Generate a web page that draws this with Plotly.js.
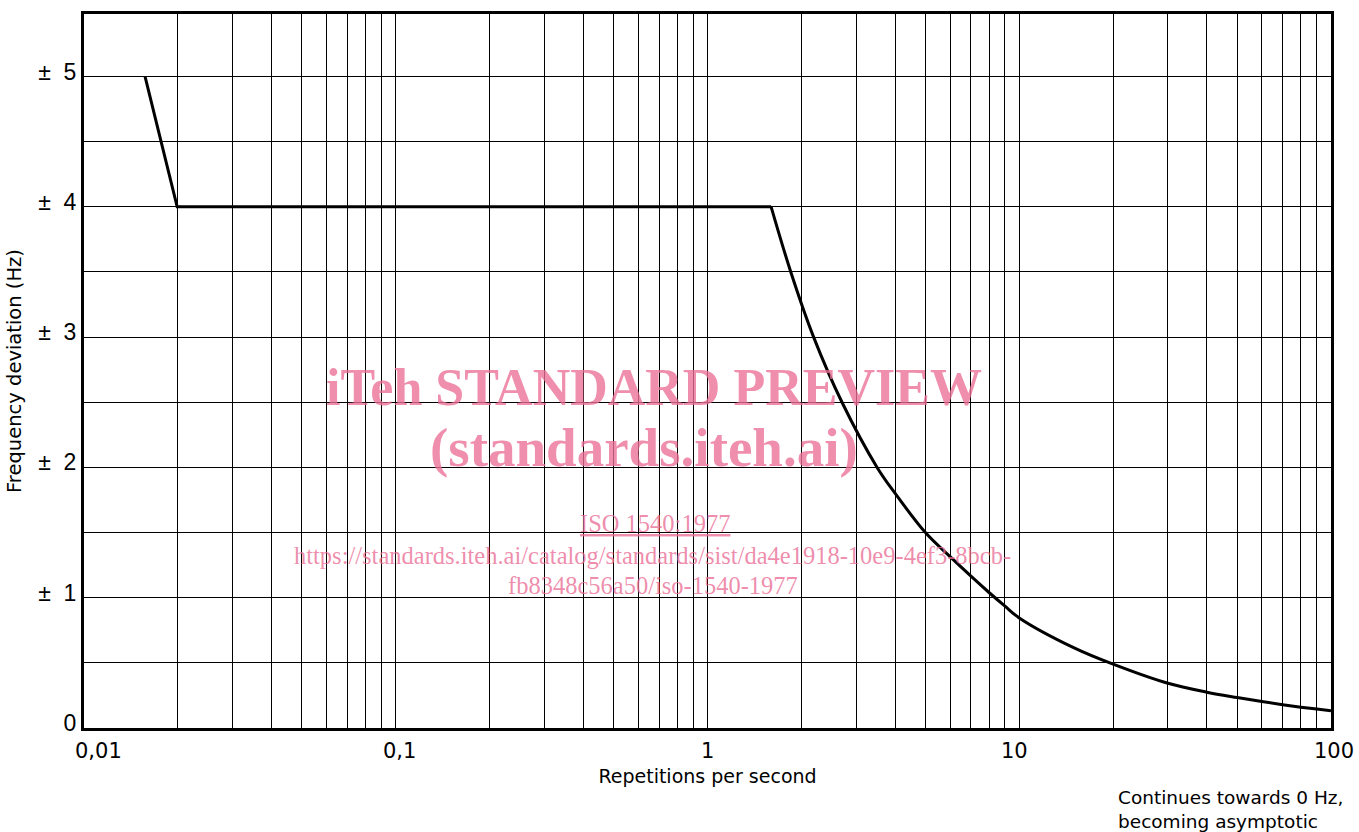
<!DOCTYPE html>
<html>
<head>
<meta charset="utf-8">
<script src="https://cdn.plot.ly/plotly-3.0.1.min.js"></script>
<style>html,body{margin:0;padding:0;background:#fff;}#chart{width:1359px;height:832px;}</style>
</head>
<body>
<div id="chart"></div>
<script>
// Limit curve: repetitions per second vs. frequency deviation (Hz)
const repRate = [0.0157, 0.0199, 1.6, 1.85, 2.19, 2.7, 3.5, 4, 5, 6, 7, 8, 9, 10, 15, 20, 30, 40, 50, 60, 70, 80, 90, 100];
const freqDev = [5, 4, 4, 3.5, 3, 2.5, 2, 1.8, 1.5, 1.315, 1.165, 1.04, 0.935, 0.845, 0.615, 0.49, 0.343, 0.275, 0.234, 0.203, 0.179, 0.16, 0.145, 0.132];
const cornerIndex = 2; // end of the straight-line part (flat at ±4 Hz)

// Axis ticks
const xDecades = [0.01, 0.1, 1, 10, 100];
const xDecadeLabels = ['0,01', '0,1', '1', '10', '100'];
const xLabelShift = [14, 4, 0, -5, 3]; // px, label placement only
const yMajor = [0, 1, 2, 3, 4, 5];
const yMajorLabels = ['0', '± 1', '± 2', '± 3', '± 4', '± 5'];

// Build grid tick lists (1..9 per decade, 0.5 Hz steps)
const xTickVals = [];
xDecades.forEach((d, i) => {
  const steps = (i === xDecades.length - 1) ? [1] : [1,2,3,4,5,6,7,8,9];
  steps.forEach(m => xTickVals.push(d * m));
});
const yTickVals = [], yTickText = [];
for (let v = 0; v <= 5; v += 0.5) {
  yTickVals.push(v);
  const idx = yMajor.indexOf(v);
  yTickText.push(idx >= 0 ? yMajorLabels[idx].replace('± ', '±&nbsp;&nbsp;') : '');
}

const wmColor = 'rgba(234,110,150,0.78)';
const serif = '"Liberation Serif", "DejaVu Serif", serif';
const sans = '"DejaVu Sans", "Liberation Sans", sans-serif';

const straightPart = {
  x: repRate.slice(0, cornerIndex + 1), y: freqDev.slice(0, cornerIndex + 1),
  type: 'scatter', mode: 'lines', line: {color: '#000', width: 3}
};
const curvedPart = {
  x: repRate.slice(cornerIndex), y: freqDev.slice(cornerIndex),
  type: 'scatter', mode: 'lines', line: {color: '#000', width: 3, shape: 'spline', smoothing: 1}
};

const xLabelAnnotations = xDecades.map((d, i) => ({
  xref: 'x', yref: 'paper', x: Math.log10(d), y: 0, xanchor: 'center', yanchor: 'top',
  yshift: -9, xshift: xLabelShift[i], showarrow: false,
  text: xDecadeLabels[i], font: {family: sans, size: 21, color: '#000'}
}));

const layout = {
  width: 1359, height: 832,
  margin: {l: 84, r: 28, t: 14, b: 104},
  paper_bgcolor: '#fff', plot_bgcolor: '#fff',
  showlegend: false,
  font: {family: sans, color: '#000'},
  xaxis: {
    type: 'log', range: [-2, 2],
    tickmode: 'array', tickvals: xTickVals, ticktext: xTickVals.map(() => ''),
    showgrid: true, gridcolor: '#000', gridwidth: 1,
    showline: true, linecolor: '#000', linewidth: 3, mirror: true,
    ticks: '', zeroline: false,
    tickfont: {size: 21, color: '#000'},
    title: {text: 'Repetitions per second', font: {size: 19, color: '#000'}, standoff: 36}
  },
  yaxis: {
    range: [0, 5.48],
    tickmode: 'array', tickvals: yTickVals, ticktext: yTickText,
    showgrid: true, gridcolor: '#000', gridwidth: 1,
    showline: true, linecolor: '#000', linewidth: 3, mirror: true,
    ticks: '', zeroline: false, ticklabelshift: -5,
    tickfont: {family: '"Liberation Sans", Arial, sans-serif', size: 23, color: '#000'},
    title: {text: 'Frequency deviation (Hz)', font: {size: 19.5, color: '#000'}, standoff: 12}
  },
  annotations: xLabelAnnotations.concat([
    {xref: 'paper', yref: 'paper', x: 0.4571, y: 0.477, xanchor: 'center', yanchor: 'middle', showarrow: false,
     text: '<b>iTeh STANDARD PREVIEW</b>', font: {family: serif, size: 52, color: wmColor}},
    {xref: 'paper', yref: 'paper', x: 0.449, y: 0.393, xanchor: 'center', yanchor: 'middle', showarrow: false,
     text: '<b>(standards.iteh.ai)</b>', font: {family: serif, size: 55, color: wmColor}},
    {xref: 'paper', yref: 'paper', x: 0.4579, y: 0.287, xanchor: 'center', yanchor: 'middle', showarrow: false,
     text: '<u>ISO 1540:1977</u>', font: {family: serif, size: 24.5, color: wmColor}},
    {xref: 'paper', yref: 'paper', x: 0.4555, y: 0.241, xanchor: 'center', yanchor: 'middle', showarrow: false,
     text: 'https://standards.iteh.ai/catalog/standards/sist/da4e1918-10e9-4ef3-8bcb-', font: {family: serif, size: 24.5, color: wmColor}},
    {xref: 'paper', yref: 'paper', x: 0.4565, y: 0.199, xanchor: 'center', yanchor: 'middle', showarrow: false,
     text: 'fb8348c56a50/iso-1540-1977', font: {family: serif, size: 24.5, color: wmColor}},
    {xref: 'paper', yref: 'paper', x: 0.8276, y: -0.08, xanchor: 'left', yanchor: 'top', align: 'left', showarrow: false,
     text: 'Continues towards 0 Hz,<br>becoming asymptotic', font: {family: sans, size: 18.5, color: '#000'}}
  ])
};

Plotly.newPlot('chart', [straightPart, curvedPart], layout, {displayModeBar: false, staticPlot: true});
</script>
</body>
</html>
